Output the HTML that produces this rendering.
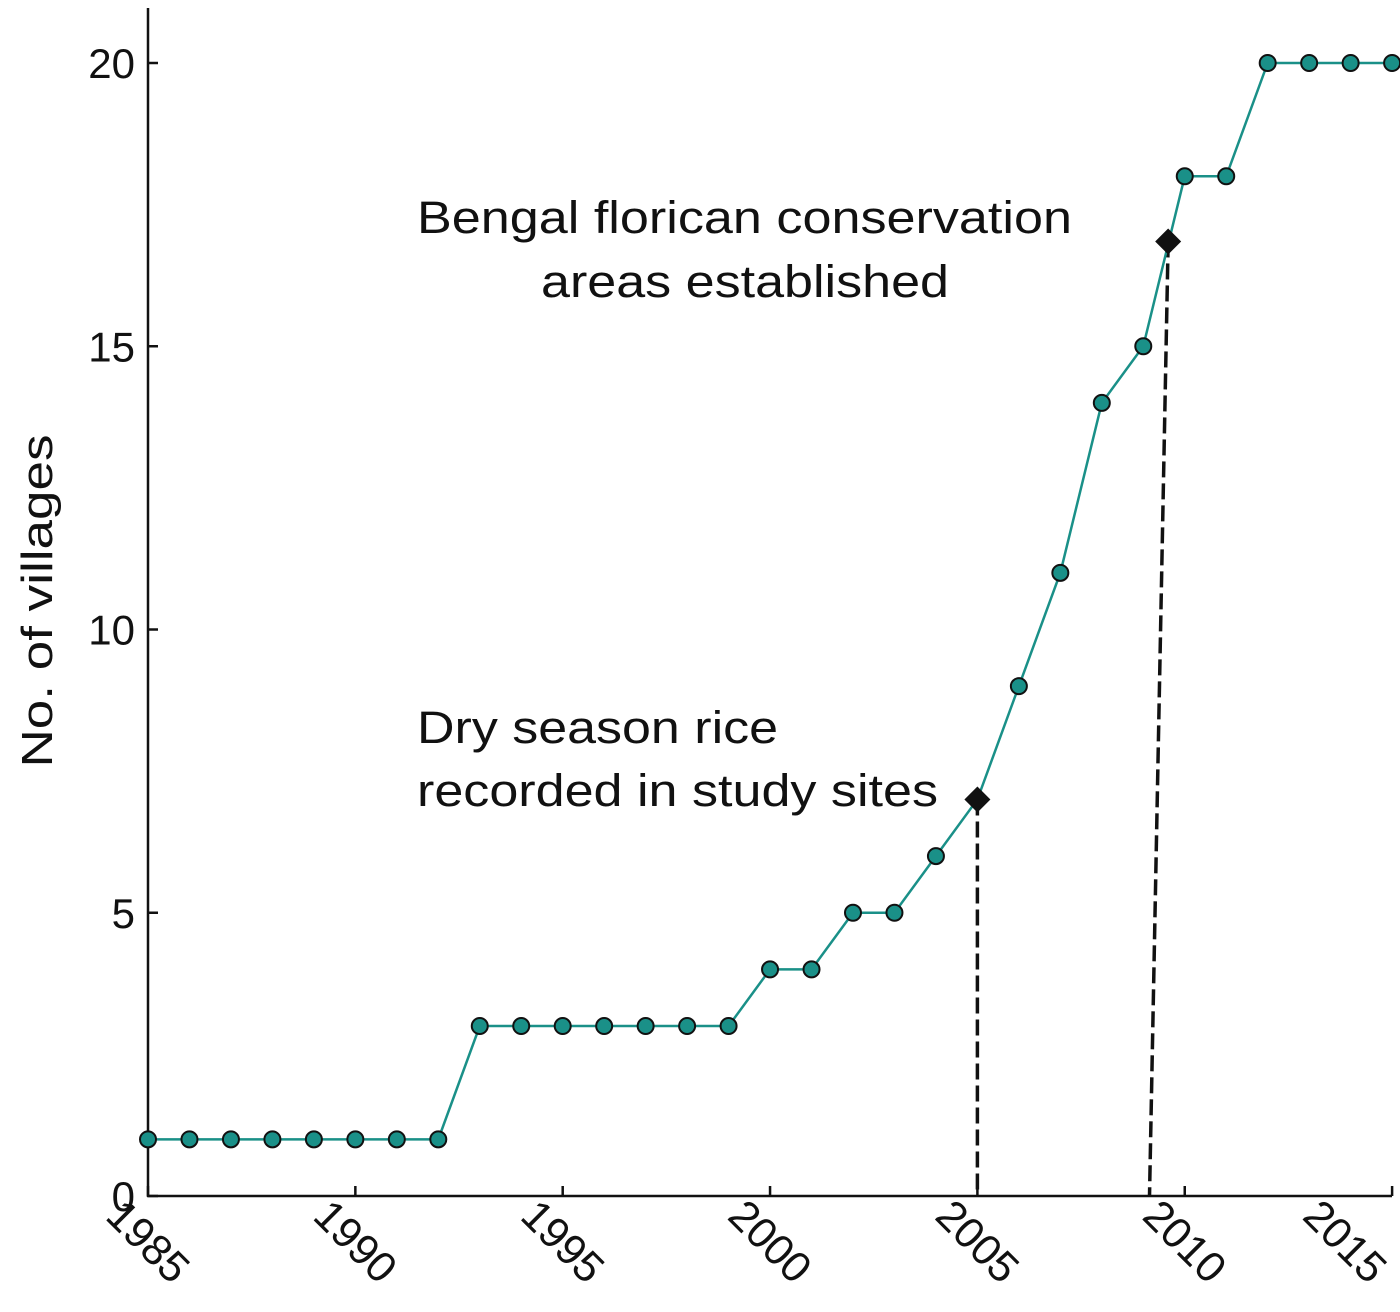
<!DOCTYPE html>
<html><head><meta charset="utf-8"><style>
html,body{margin:0;padding:0;background:#fff}
svg{display:block}
text{font-family:"Liberation Sans",Arial,sans-serif;fill:#111}
</style></head><body>
<svg id="chart" width="1400" height="1312" viewBox="0 0 1400 1312">
<g id="axes"></g><g id="marks"></g>
</svg>
<script>
const years=[1985,1986,1987,1988,1989,1990,1991,1992,1993,1994,1995,1996,1997,1998,1999,2000,2001,2002,2003,2004,2005,2006,2007,2008,2009,2010,2011,2012,2013,2014,2015];
const villages=[1,1,1,1,1,1,1,1,3,3,3,3,3,3,3,4,4,5,5,6,7,9,11,14,15,18,18,20,20,20,20];
const xTicks=[1985,1990,1995,2000,2005,2010,2015];
const yTicks=[0,5,10,15,20];
const eventYears=[2005,2009.6];
const eventValues=[7,16.85];
const eventBaseYears=[2005,2009.15];

const NS="http://www.w3.org/2000/svg";
const X=v=>148+(v-1985)*41.47;
const Y=v=>1196-v*56.65;
function mk(tag,attrs,parent){const e=document.createElementNS(NS,tag);for(const k in attrs)e.setAttribute(k,attrs[k]);parent.appendChild(e);return e;}
const axes=document.getElementById('axes'),marks=document.getElementById('marks');

let a=mk('line',{x1:148,y1:8,x2:148,y2:1197,stroke:'#111','stroke-width':2.5},axes);


a=mk('line',{x1:147,y1:1196,x2:1392,y2:1196,stroke:'#111','stroke-width':2.5},axes);



yTicks.forEach(v=>{
 let t=mk('line',{x1:148,y1:Y(v),x2:158,y2:Y(v),stroke:'#111','stroke-width':2.5},axes);
 
 
 let l=mk('text',{x:135,y:Y(v)+15,'text-anchor':'end','font-size':42},axes);l.textContent=v;
 
 
});
xTicks.forEach(v=>{
 const x=Math.min(X(v),1345);
 let t=mk('line',{x1:X(v),y1:1196,x2:X(v),y2:1186,stroke:'#111','stroke-width':2.5},axes);
 
 
 let l=mk('text',{x:0,y:0,'font-size':43,transform:`translate(${x-44},${1218}) rotate(45)`},axes);l.textContent=v;
 
 
});
let yt=mk('text',{x:0,y:0,'font-size':44,'text-anchor':'middle',textLength:333,lengthAdjust:'spacingAndGlyphs',transform:'translate(52,601) rotate(-90)'},axes);
yt.textContent='No. of villages';



const ann=[[417,233,655,'Bengal florican conservation'],[541,297,408,'areas established'],[417,743,361,'Dry season rice'],[417,806,521,'recorded in study sites']];
ann.forEach(r=>{let t=mk('text',{x:r[0],y:r[1],textLength:r[2],lengthAdjust:'spacingAndGlyphs','font-size':45},axes);t.textContent=r[3];
 
 });

eventYears.forEach((e,i)=>{
 let d=mk('line',{x1:X(e),y1:Y(eventValues[i]),x2:X(eventBaseYears[i]),y2:1196,stroke:'#111','stroke-width':3.5,'stroke-dasharray':'16,6'},marks);
 
 
});

let p=mk('polyline',{points:years.map((y,i)=>X(y)+','+Y(villages[i])).join(' '),fill:'none',stroke:'#1a9088','stroke-width':2.5},marks);


years.forEach((y,i)=>{
 let c=mk('circle',{cx:X(y),cy:Y(villages[i]),r:8,fill:'#1a9088',stroke:'#111','stroke-width':2},marks);
 
 
});
eventYears.forEach((e,i)=>{
 const x=X(e),y=Y(eventValues[i]);
 let d=mk('polygon',{points:`${x},${y-13} ${x+13},${y} ${x},${y+13} ${x-13},${y}`,fill:'#111'},marks);
 
 
});
</script>
</body></html>
